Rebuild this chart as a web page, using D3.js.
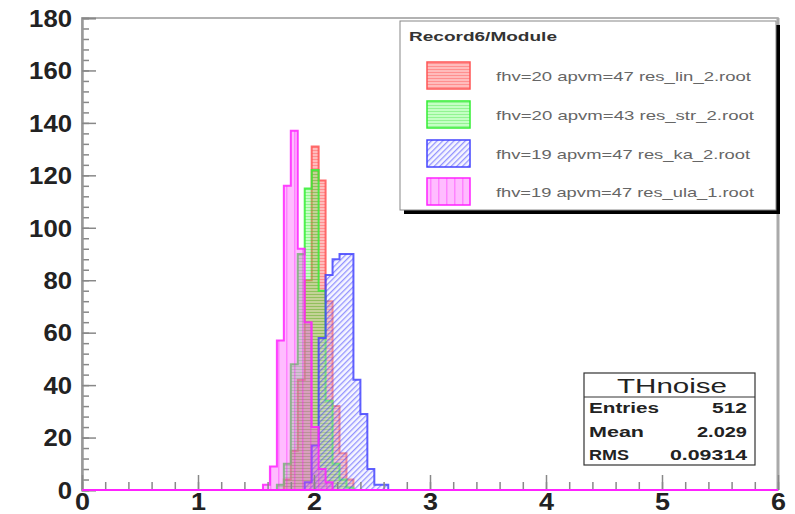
<!DOCTYPE html>
<html>
<head>
<meta charset="utf-8">
<script src="https://cdn.jsdelivr.net/npm/d3@7"></script>
<style>
  html, body { margin: 0; padding: 0; background: #fff; }
  svg { display: block; font-family: "Liberation Sans", Arial, Helvetica, sans-serif; }
</style>
</head>
<body>
<svg id="chart" width="795" height="514"></svg>
<script>
// ---------- data ----------
const binWidth = 0.06;
const binLowEdges = [1.56, 1.62, 1.68, 1.74, 1.80, 1.86, 1.92, 1.98, 2.04, 2.10, 2.16, 2.22, 2.28, 2.34, 2.40, 2.46, 2.52, 2.58];
const countsLin = [0, 0, 0, 4, 15, 42, 80, 131, 118, 72, 32, 14, 4, 0, 0, 0, 0, 0];
const countsStr = [0, 0, 2, 10, 48, 90, 115, 122, 76, 34, 10, 4, 1, 0, 0, 0, 0, 0];
const countsKa  = [0, 0, 0, 0, 0, 0, 3, 17, 58, 82, 88, 90, 90, 42, 29, 8, 2, 2];
const countsUla = [2, 9, 57, 116, 137, 92, 64, 24, 8, 3, 0, 0, 0, 0, 0, 0, 0, 0];
const seriesNames = ["fhv=20 apvm=47 res_lin_2.root", "fhv=20 apvm=43 res_str_2.root", "fhv=19 apvm=47 res_ka_2.root", "fhv=19 apvm=47 res_ula_1.root"];
const legendTitle = "Record6/Module";
const xTicks = [0, 1, 2, 3, 4, 5, 6];
const yTicks = [0, 20, 40, 60, 80, 100, 120, 140, 160, 180];
const statsTitle = "THnoise";
const statsLabels = ["Entries", "Mean", "RMS"];
const statsValues = ["512", "2.029", "0.09314"];

// ---------- layout ----------
const svg = d3.select("#chart");
const X0 = 82, X1 = 778, Y0 = 490, Y1 = 18;
const x = d3.scaleLinear().domain([0, 6]).range([X0, X1]);
const y = d3.scaleLinear().domain([0, 180]).range([Y0, Y1]);
const stretch = 1.55; // the picture is horizontally stretched

// ---------- patterns ----------
const defs = svg.append("defs");
function pat(id, w, h, build) {
  const p = defs.append("pattern").attr("id", id).attr("width", w).attr("height", h)
    .attr("patternUnits", "userSpaceOnUse");
  build(p);
}
pat("pRed", 6, 3, p => {
  p.append("rect").attr("width", 6).attr("height", 3).attr("fill", "rgba(255,70,70,0.36)");
  p.append("rect").attr("width", 6).attr("height", 1).attr("fill", "rgba(255,40,40,0.3)");
});
pat("pGreen", 6, 3, p => {
  p.append("rect").attr("width", 6).attr("height", 3).attr("fill", "rgba(70,255,70,0.32)");
  p.append("rect").attr("width", 6).attr("height", 1).attr("fill", "rgba(30,220,30,0.3)");
});
pat("pBlue", 4, 4, p => {
  p.attr("patternTransform", "rotate(45)");
  p.append("rect").attr("width", 4).attr("height", 4).attr("fill", "rgba(225,225,255,0.3)");
  p.append("rect").attr("width", 1.3).attr("height", 4).attr("fill", "rgba(50,50,255,0.5)");
});
pat("pMag", 8, 8, p => {
  p.append("rect").attr("width", 8).attr("height", 8).attr("fill", "rgba(255,70,255,0.36)");
  p.append("rect").attr("x", 6).attr("width", 1.5).attr("height", 8).attr("fill", "rgba(255,0,255,0.3)");
});

const series = [
  { counts: countsLin, fill: "url(#pRed)", stroke: "#ff5555" },
  { counts: countsStr, fill: "url(#pGreen)", stroke: "#33ee33" },
  { counts: countsKa, fill: "url(#pBlue)", stroke: "#4444ff" },
  { counts: countsUla, fill: "url(#pMag)", stroke: "#ff22ff" }
];

// ---------- frame ----------
svg.append("rect").attr("x", X0).attr("y", Y1).attr("width", X1 - X0).attr("height", Y0 - Y1)
  .attr("fill", "none").attr("stroke", "#999").attr("stroke-width", 1.5);
svg.append("line").attr("x1", X1).attr("x2", X1).attr("y1", Y1).attr("y2", Y0)
  .attr("stroke", "#aaa").attr("stroke-width", 3);

// ---------- histograms ----------
series.forEach(s => {
  const pts = [];
  binLowEdges.forEach((lo, i) => {
    pts.push([lo, s.counts[i]]);
    pts.push([lo + binWidth, s.counts[i]]);
  });
  const first = binLowEdges[0], last = binLowEdges[binLowEdges.length - 1] + binWidth;
  const area = [[first, 0], ...pts, [last, 0]];
  svg.append("path")
    .attr("d", d3.line().x(d => x(d[0])).y(d => y(d[1]))(area) + "Z")
    .attr("fill", s.fill).attr("stroke", "none");
  const outline = [[0, 0], [first, 0], ...pts, [last, 0], [6, 0]];
  svg.append("path")
    .attr("d", d3.line().x(d => x(d[0])).y(d => y(d[1]))(outline))
    .attr("fill", "none").attr("stroke", s.stroke).attr("stroke-width", 2).attr("stroke-opacity", 0.85);
});

// ---------- axes ----------
const yMinor = d3.range(0, 181, 4);
const xMinor = d3.range(0, 6.01, 0.2);
const gy = svg.append("g").attr("transform", `translate(${X0},0)`);
gy.call(d3.axisLeft(y).tickValues(yMinor).tickSize(-7).tickFormat(""));
gy.call(g => g.selectAll(".tick line").attr("stroke", "#888").attr("stroke-width", 1.5));
const gy2 = svg.append("g").attr("transform", `translate(${X0},0)`);
gy2.call(d3.axisLeft(y).tickValues(yTicks).tickSize(-14).tickPadding(10));
gy2.call(g => g.selectAll(".tick line").attr("stroke", "#888").attr("stroke-width", 1.5));
gy2.selectAll("text").attr("font-size", 23).attr("fill", "#222").attr("font-family", "Liberation Sans")
  .attr("dy", "0.36em").attr("font-weight", "bold")
  .attr("textLength", d => String(d).length * 14.3).attr("lengthAdjust", "spacingAndGlyphs");
[gy, gy2].forEach(g => g.select(".domain").attr("stroke", "#999").attr("stroke-width", 2));

const gx = svg.append("g").attr("transform", `translate(0,${Y0})`);
gx.call(d3.axisBottom(x).tickValues(xMinor).tickSize(-8).tickFormat(""));
gx.call(g => g.selectAll(".tick line").attr("stroke", "#888").attr("stroke-width", 1.5));
const gx2 = svg.append("g").attr("transform", `translate(0,${Y0})`);
gx2.call(d3.axisBottom(x).tickValues(xTicks).tickSize(-15).tickPadding(4).tickFormat(d3.format("d")));
gx2.call(g => g.selectAll(".tick line").attr("stroke", "#888").attr("stroke-width", 1.5));
gx2.selectAll("text").attr("font-size", 23).attr("fill", "#222").attr("font-family", "Liberation Sans")
  .attr("font-weight", "bold").attr("textLength", 15).attr("lengthAdjust", "spacingAndGlyphs");
[gx, gx2].forEach(g => g.select(".domain").attr("stroke", "none"));
// magenta baseline redrawn on top
svg.append("line").attr("x1", x(0)).attr("x2", x(6)).attr("y1", y(0)).attr("y2", y(0))
  .attr("stroke", "#ff22ff").attr("stroke-width", 2);

// ---------- legend ----------
const lg = svg.append("g");
lg.append("rect").attr("x", 404).attr("y", 25).attr("width", 376).attr("height", 189).attr("fill", "#000");
lg.append("rect").attr("x", 400).attr("y", 21).attr("width", 376).attr("height", 189)
  .attr("fill", "#fff").attr("stroke", "#888").attr("stroke-width", 1);
lg.append("text").attr("x", 409).attr("y", 41).text(legendTitle)
  .attr("font-size", 12).attr("font-weight", "bold").attr("fill", "#333")
  .attr("textLength", 148).attr("lengthAdjust", "spacingAndGlyphs");
const entryY = [62, 101, 140, 178];
const entryLen = [255, 258, 254, 258];
series.forEach((s, i) => {
  lg.append("rect").attr("x", 427).attr("y", entryY[i]).attr("width", 43).attr("height", 27)
    .attr("fill", s.fill).attr("stroke", s.stroke).attr("stroke-width", 1.5);
  lg.append("text").attr("x", 496).attr("y", entryY[i] + 14).attr("dy", "0.35em")
    .text(seriesNames[i]).attr("font-size", 13).attr("fill", "#666")
    .attr("textLength", entryLen[i]).attr("lengthAdjust", "spacingAndGlyphs");
});

// ---------- stats box ----------
const sb = svg.append("g");
sb.append("rect").attr("x", 584).attr("y", 373).attr("width", 171).attr("height", 92)
  .attr("fill", "#fff").attr("stroke", "#333").attr("stroke-width", 1.2);
sb.append("line").attr("x1", 584).attr("x2", 755).attr("y1", 397).attr("y2", 397)
  .attr("stroke", "#333").attr("stroke-width", 1);
sb.append("text").attr("x", 672).attr("y", 385).attr("dy", "0.36em").attr("text-anchor", "middle")
  .text(statsTitle).attr("font-size", 21).attr("fill", "#222")
  .attr("textLength", 110).attr("lengthAdjust", "spacingAndGlyphs");
const rowY = [408, 432, 455];
const labLen = [70, 55, 40];
const valLen = [35, 50, 77];
statsLabels.forEach((lab, i) => {
  sb.append("text").attr("x", 589).attr("y", rowY[i]).attr("dy", "0.36em").text(lab)
    .attr("font-size", 14).attr("font-weight", "bold").attr("fill", "#222")
    .attr("textLength", labLen[i]).attr("lengthAdjust", "spacingAndGlyphs");
  sb.append("text").attr("x", 747 - valLen[i]).attr("y", rowY[i]).attr("dy", "0.36em")
    .text(statsValues[i]).attr("font-size", 14).attr("font-weight", "bold").attr("fill", "#222")
    .attr("textLength", valLen[i]).attr("lengthAdjust", "spacingAndGlyphs");
});
</script>
</body>
</html>
